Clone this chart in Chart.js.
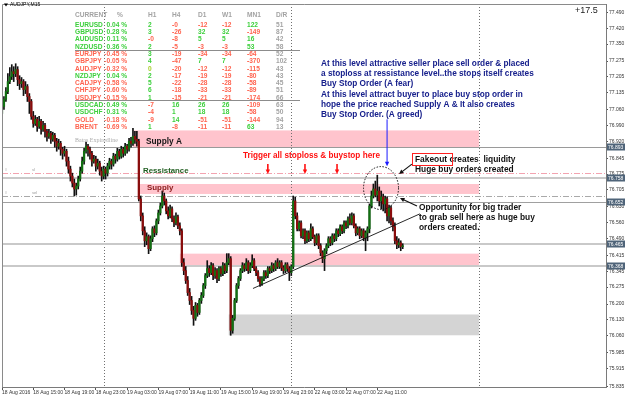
<!DOCTYPE html>
<html>
<head>
<meta charset="utf-8">
<title>AUDJPY,M15</title>
<script src="https://cdn.jsdelivr.net/npm/chart.js@4.4.1/dist/chart.umd.min.js"></script>
<style>
html,body{margin:0;padding:0;background:#fff;overflow:hidden;}
#wrap{position:relative;width:625px;height:397px;}
canvas{display:block;}
</style>
</head>
<body>
<div id="wrap"><canvas id="chart" width="625" height="397"></canvas></div>
<script>
// ---------------- data (AUDJPY M15, bar index 0 = 18 Aug 11:00) ----------------
const opens = [77.043,77.074,77.105,77.140,77.184,77.206,77.228,77.219,77.237,77.193,
77.175,77.184,77.149,77.162,77.118,77.096,77.030,76.999,77.017,76.986,
77.008,76.973,76.990,76.964,76.942,76.955,76.929,76.946,76.920,76.898,
76.911,76.885,76.867,76.876,76.832,76.797,76.766,76.735,76.709,76.722,
76.753,76.788,76.832,76.876,76.898,76.885,76.867,76.832,76.841,76.810,
76.823,76.788,76.766,76.797,76.779,76.810,76.832,76.819,76.854,76.841,
76.876,76.854,76.885,76.867,76.898,76.885,76.920,76.911,76.942,76.929,
76.920,76.665,76.590,76.524,76.480,76.498,76.445,76.489,76.533,76.515,
76.568,76.603,76.634,76.678,76.656,76.612,76.590,76.621,76.577,76.559,
76.586,76.546,76.524,76.383,76.348,76.304,76.251,76.216,76.172,76.137,
76.194,76.163,76.216,76.238,76.282,76.326,76.357,76.339,76.370,76.326,
76.348,76.313,76.357,76.335,76.370,76.348,76.383,76.401,76.084,76.137,
76.216,76.282,76.313,76.348,76.370,76.357,76.383,76.348,76.370,76.392,
76.357,76.339,76.313,76.291,76.313,76.339,76.326,76.357,76.348,76.370,
76.357,76.383,76.366,76.383,76.361,76.348,76.374,76.357,76.339,76.366,
76.656,76.590,76.533,76.559,76.502,76.524,76.480,76.515,76.489,76.533,
76.498,76.471,76.502,76.458,76.427,76.401,76.436,76.458,76.489,76.471,
76.502,76.489,76.524,76.511,76.542,76.524,76.559,76.546,76.577,76.559,
76.590,76.546,76.515,76.533,76.502,76.524,76.493,76.515,76.533,76.634,
76.678,76.709,76.682,76.700,76.656,76.674,76.643,76.665,76.590,76.625,
76.568,76.542,76.480,76.462,76.471,76.454];

const highs = [77.131,77.118,77.158,77.219,77.246,77.259,77.250,77.263,77.250,77.210,
77.202,77.193,77.184,77.171,77.131,77.105,77.052,77.034,77.026,77.030,
77.017,77.008,76.999,76.973,76.973,76.964,76.960,76.955,76.933,76.929,
76.920,76.894,76.898,76.885,76.850,76.810,76.779,76.753,76.735,76.766,
76.806,76.850,76.889,76.916,76.907,76.894,76.876,76.858,76.854,76.841,
76.832,76.806,76.810,76.806,76.823,76.845,76.841,76.867,76.863,76.889,
76.885,76.898,76.894,76.911,76.907,76.933,76.938,76.977,76.964,76.964,
76.929,76.678,76.603,76.542,76.515,76.506,76.502,76.542,76.546,76.577,
76.616,76.647,76.700,76.691,76.665,76.630,76.638,76.630,76.590,76.603,
76.594,76.559,76.533,76.401,76.366,76.322,76.269,76.234,76.190,76.207,
76.203,76.225,76.251,76.291,76.335,76.392,76.370,76.383,76.379,76.361,
76.357,76.366,76.366,76.383,76.379,76.423,76.423,76.410,76.150,76.225,
76.291,76.322,76.357,76.383,76.379,76.401,76.392,76.383,76.418,76.401,
76.366,76.348,76.322,76.322,76.348,76.348,76.366,76.366,76.383,76.379,
76.392,76.401,76.392,76.392,76.370,76.383,76.383,76.366,76.374,76.678,
76.674,76.603,76.568,76.568,76.533,76.533,76.524,76.524,76.555,76.542,
76.506,76.511,76.511,76.467,76.436,76.445,76.467,76.498,76.498,76.511,
76.511,76.533,76.533,76.550,76.550,76.568,76.568,76.586,76.599,76.603,
76.599,76.555,76.542,76.542,76.533,76.533,76.524,76.542,76.643,76.700,
76.731,76.744,76.770,76.718,76.700,76.687,76.678,76.674,76.638,76.634,
76.581,76.559,76.498,76.489,76.480,76.467];

const lows = [77.008,77.061,77.096,77.131,77.175,77.193,77.184,77.206,77.166,77.149,
77.158,77.122,77.131,77.096,77.043,77.017,76.982,76.990,76.964,76.977,
76.951,76.964,76.938,76.920,76.933,76.911,76.920,76.894,76.876,76.885,
76.858,76.841,76.854,76.810,76.779,76.744,76.718,76.678,76.682,76.709,
76.744,76.779,76.819,76.867,76.854,76.841,76.810,76.823,76.788,76.797,
76.770,76.744,76.753,76.753,76.766,76.797,76.797,76.810,76.823,76.832,
76.841,76.845,76.850,76.858,76.867,76.876,76.894,76.902,76.911,76.898,
76.656,76.568,76.506,76.454,76.462,76.423,76.436,76.476,76.498,76.506,
76.555,76.594,76.625,76.638,76.599,76.577,76.581,76.564,76.542,76.550,
76.533,76.506,76.366,76.330,76.291,76.238,76.198,76.154,76.106,76.128,
76.146,76.154,76.203,76.229,76.269,76.317,76.322,76.330,76.308,76.313,
76.295,76.304,76.322,76.326,76.335,76.339,76.374,76.062,76.071,76.128,
76.207,76.269,76.304,76.339,76.344,76.348,76.335,76.339,76.361,76.348,
76.326,76.300,76.278,76.282,76.304,76.313,76.317,76.335,76.339,76.344,
76.348,76.357,76.357,76.348,76.335,76.339,76.344,76.304,76.326,76.357,
76.577,76.524,76.524,76.493,76.489,76.467,76.471,76.476,76.480,76.489,
76.458,76.462,76.445,76.414,76.383,76.348,76.423,76.449,76.458,76.462,
76.476,76.480,76.498,76.502,76.511,76.515,76.533,76.537,76.550,76.550,
76.537,76.502,76.506,76.489,76.493,76.480,76.436,76.480,76.515,76.625,
76.669,76.674,76.656,76.634,76.621,76.612,76.603,76.568,76.559,76.550,
76.524,76.467,76.445,76.449,76.436,76.445];

const closes = [77.074,77.105,77.140,77.184,77.206,77.228,77.219,77.237,77.193,77.175,
77.184,77.149,77.162,77.118,77.096,77.030,76.999,77.017,76.986,77.008,
76.973,76.990,76.964,76.942,76.955,76.929,76.946,76.920,76.898,76.911,
76.885,76.867,76.876,76.832,76.797,76.766,76.735,76.709,76.722,76.753,
76.788,76.832,76.876,76.898,76.885,76.867,76.832,76.841,76.810,76.823,
76.788,76.766,76.797,76.779,76.810,76.832,76.819,76.854,76.841,76.876,
76.854,76.885,76.867,76.898,76.885,76.920,76.911,76.942,76.929,76.920,
76.665,76.590,76.524,76.480,76.498,76.445,76.489,76.533,76.515,76.568,
76.603,76.634,76.678,76.656,76.612,76.590,76.621,76.577,76.559,76.586,
76.546,76.524,76.383,76.348,76.304,76.251,76.216,76.172,76.137,76.194,
76.163,76.216,76.238,76.282,76.326,76.357,76.339,76.370,76.326,76.348,
76.313,76.357,76.335,76.370,76.348,76.383,76.401,76.084,76.137,76.216,
76.282,76.313,76.348,76.370,76.357,76.383,76.348,76.370,76.392,76.357,
76.339,76.313,76.291,76.313,76.339,76.326,76.357,76.348,76.370,76.357,
76.383,76.366,76.383,76.361,76.348,76.374,76.357,76.339,76.366,76.656,
76.590,76.533,76.559,76.502,76.524,76.480,76.515,76.489,76.533,76.498,
76.471,76.502,76.458,76.427,76.401,76.436,76.458,76.489,76.471,76.502,
76.489,76.524,76.511,76.542,76.524,76.559,76.546,76.577,76.559,76.590,
76.546,76.515,76.533,76.502,76.524,76.493,76.515,76.533,76.634,76.678,
76.709,76.682,76.700,76.656,76.674,76.643,76.665,76.590,76.625,76.568,
76.542,76.480,76.462,76.471,76.454,76.458];

// time axis: bar index of each label, and the label text
const xTickBars   = [0,16,32,48,64,80,96,112,128,144,160,176,192];
const xTickLabels = ['18 Aug 2016','18 Aug 15:00','18 Aug 19:00','18 Aug 23:00','19 Aug 03:00','19 Aug 07:00',
                     '19 Aug 11:00','19 Aug 15:00','19 Aug 19:00','19 Aug 23:00','22 Aug 03:00','22 Aug 07:00','22 Aug 11:00'];
const daySeparatorBars = [52,148,244];

// price axis tick labels
const yTickValues = [77.490,77.420,77.350,77.275,77.205,77.135,77.060,76.990,76.920,76.845,76.775,76.705,
                     76.630,76.560,76.490,76.415,76.345,76.275,76.200,76.130,76.060,75.985,75.915,75.835];

// horizontal price levels (with price labels on the axis)
const levelPrices = [76.893,76.758,76.652,76.465,76.368];
// stop-loss / sell dash-dot lines
const stopLevels = [76.779,76.678];

// zones: start bar, end bar, top price, bottom price
const zoneNames     = ['Supply A','Supply','Demand','Base'];
const zoneStartBar  = [67,70,91,116];
const zoneEndBar    = [244,244,244,244];
const zoneTop       = [76.968,76.731,76.423,76.154];
const zoneBottom    = [76.893,76.687,76.370,76.062];

// trendline (bar, price)
const trendBars   = [128.4,213.8];
const trendPrices = [76.269,76.599];

// currency-strength table
const tableHeaders = ['CURRENT','%','H1','H4','D1','W1','MN1','D/R'];
const tableSymbols = ['EURUSD','GBPUSD','AUDUSD','NZDUSD','EURJPY','GBPJPY','AUDJPY','NZDJPY','CADJPY','CHFJPY','USDJPY','USDCAD','USDCHF','GOLD','BRENT'];
const tablePct     = ['0.04 %','0.28 %','0.11 %','0.36 %','-0.45 %','-0.05 %','-0.32 %','0.04 %','-0.58 %','-0.60 %','-0.15 %','0.49 %','0.31 %','-0.18 %','-0.69 %'];
const tableH1      = ['2','3','-0','2','3','4','0','2','5','6','1','-7','-4','-9','1'];
const tableH4      = ['-0','-26','-8','-5','-19','-47','-20','-17','-22','-18','-15','16','1','14','-8'];
const tableD1      = ['-12','32','5','-3','-34','7','-12','-19','-28','-33','-21','26','18','-51','-11'];
const tableW1      = ['-12','32','5','-3','-34','7','-12','-19','-28','-33','-21','26','18','-51','-11'];
const tableMN1     = ['122','-149','16','53','-64','-370','-115','-80','-58','-89','-174','-109','-58','-144','63'];
const tableDR      = ['51','87','42','58','52','102','43','43','45','51','66','63','50','94','13'];

// annotation texts
const noteSeller = ['At this level attractive seller place sell order & placed',
                    'a stoploss at ressistance level..the stops itself creates',
                    'Buy Stop Order (A fear)'];
const noteBuyer  = ['At this level attract buyer to place buy stop order in',
                    'hope the price reached Supply A & It also creates',
                    'Buy Stop Order. (A greed)'];
const noteTrigger = 'Trigger all stoploss & buystop here';
const noteFake = ['Fakeout creates  liquidity','Huge buy orders created'];
const noteOpp  = ['Opportunity for big trader','to grab sell here as huge buy','orders created.'];
const redArrowBars = [136,155,171.4];

// ---------------- drawing ----------------
const FONT = '"Liberation Sans", Arial, sans-serif';
Chart.defaults.font.family = FONT;
const BULL = '#127012', BEAR = '#8a0c0c';
const GREEN_TXT = '#3ccf3c', RED_TXT = '#ff6450', GRAY_TXT = '#a3a3a3';

function arrow(ctx, x0, y0, x1, y1, color, lw, head) {
  const ang = Math.atan2(y1 - y0, x1 - x0);
  ctx.strokeStyle = color; ctx.fillStyle = color; ctx.lineWidth = lw;
  ctx.beginPath(); ctx.moveTo(x0, y0);
  ctx.lineTo(x1 - Math.cos(ang) * head * 0.8, y1 - Math.sin(ang) * head * 0.8); ctx.stroke();
  ctx.beginPath(); ctx.moveTo(x1, y1);
  ctx.lineTo(x1 - head * Math.cos(ang - 0.45), y1 - head * Math.sin(ang - 0.45));
  ctx.lineTo(x1 - head * Math.cos(ang + 0.45), y1 - head * Math.sin(ang + 0.45));
  ctx.closePath(); ctx.fill();
}

const backPlugin = {
  id: 'back',
  beforeDatasetsDraw(c) {
    const {ctx, chartArea: a, scales: {x, y}} = c;
    ctx.save();
    ctx.beginPath(); ctx.rect(a.left, a.top, a.right - a.left, a.bottom - a.top); ctx.clip();
    // zones
    for (let i = 0; i < zoneTop.length; i++) {
      const x0 = x.getPixelForValue(zoneStartBar[i]), x1 = x.getPixelForValue(zoneEndBar[i]);
      const y0 = y.getPixelForValue(zoneTop[i]), y1 = y.getPixelForValue(zoneBottom[i]);
      ctx.fillStyle = i === 3 ? '#d4d4d4' : '#ffc4cd';
      ctx.fillRect(x0, y0, x1 - x0, y1 - y0);
    }
    // day separators
    ctx.strokeStyle = '#707070'; ctx.lineWidth = 1; ctx.setLineDash([1, 2]);
    daySeparatorBars.forEach(b => {
      const px = Math.round(x.getPixelForValue(b)) + 0.5;
      ctx.beginPath(); ctx.moveTo(px, a.top); ctx.lineTo(px, a.bottom); ctx.stroke();
    });
    // dash-dot stop lines
    ctx.setLineDash([6, 2, 1, 2]);
    stopLevels.forEach((v, i) => {
      ctx.strokeStyle = i === 0 ? '#f3a3b0' : '#a9a9a9';
      const py = Math.round(y.getPixelForValue(v)) + 0.5;
      ctx.beginPath(); ctx.moveTo(a.left, py); ctx.lineTo(a.right, py); ctx.stroke();
    });
    ctx.setLineDash([]);
    // level lines
    const widths = [1, 2, 1, 2, 2];
    const cols = ['#9a9a9a', '#c9c9c9', '#a0a0a0', '#c9c9c9', '#c9c9c9'];
    levelPrices.forEach((v, i) => {
      ctx.strokeStyle = cols[i]; ctx.lineWidth = widths[i];
      let py = y.getPixelForValue(v);
      py = widths[i] === 1 ? Math.round(py) + 0.5 : Math.round(py);
      ctx.beginPath(); ctx.moveTo(a.left, py); ctx.lineTo(a.right, py); ctx.stroke();
    });
    // tiny object captions at the left of stop lines
    ctx.fillStyle = '#9a9a9a'; ctx.font = '4px ' + FONT; ctx.textBaseline = 'bottom';
    ctx.fillText('#', 5, y.getPixelForValue(stopLevels[0]) - 1);
    ctx.fillText('sl', 32, y.getPixelForValue(stopLevels[0]) - 1);
    ctx.fillText('#', 5, y.getPixelForValue(stopLevels[1]) - 1);
    ctx.fillText('sel', 32, y.getPixelForValue(stopLevels[1]) - 1);
    ctx.restore();
  }
};

const overPlugin = {
  id: 'over',
  afterDraw(c) {
    const {ctx, chartArea: a, scales: {x, y}} = c;
    ctx.save();
    // frame
    ctx.strokeStyle = '#8a8a8a'; ctx.lineWidth = 1;
    ctx.beginPath(); ctx.moveTo(a.left + 0.5, a.bottom); ctx.lineTo(a.left + 0.5, a.top + 0.5); ctx.lineTo(a.right, a.top + 0.5); ctx.stroke();

    // title
    ctx.fillStyle = '#000';
    ctx.beginPath(); ctx.moveTo(4, 3.5); ctx.lineTo(8, 3.5); ctx.lineTo(6, 6.5); ctx.closePath(); ctx.fill();
    ctx.font = '5px ' + FONT; ctx.textBaseline = 'middle'; ctx.textAlign = 'left';
    ctx.fillText('AUDJPY,M15', 10, 5);
    ctx.font = '9px ' + FONT; ctx.fillStyle = '#222';
    ctx.fillText('+17.5', 575, 11);

    // table
    const colX = [75, 127, 148, 172, 198, 222, 247, 276];
    ctx.textBaseline = 'middle';
    ctx.font = 'bold 6.6px ' + FONT;
    tableHeaders.forEach((h, j) => {
      ctx.fillStyle = GRAY_TXT;
      ctx.textAlign = 'left';
      ctx.fillText(h, j === 1 ? 117 : colX[j], 15);
    });
    const valColor = s => s.startsWith('-') ? RED_TXT : (s === '0' ? '#a6cf2a' : GREEN_TXT);
    tableSymbols.forEach((s, i) => {
      const ty = 24.7 + i * 7.33;
      const sc = tablePct[i].startsWith('-') ? RED_TXT : GREEN_TXT;
      ctx.fillStyle = sc; ctx.textAlign = 'left'; ctx.fillText(s, colX[0], ty);
      ctx.textAlign = 'right'; ctx.fillText(tablePct[i], colX[1], ty);
      ctx.textAlign = 'left';
      [tableH1, tableH4, tableD1, tableW1, tableMN1].forEach((arr, k) => {
        ctx.fillStyle = valColor(arr[i]); ctx.fillText(arr[i], colX[k + 2], ty);
      });
      ctx.fillStyle = GRAY_TXT; ctx.fillText(tableDR[i], colX[7], ty);
    });
    ctx.strokeStyle = '#8c8c8c'; ctx.lineWidth = 1;
    [50.5, 100.5].forEach(ly => { ctx.beginPath(); ctx.moveTo(75, ly); ctx.lineTo(300, ly); ctx.stroke(); });

    // gray caption
    ctx.fillStyle = '#adadad'; ctx.font = '6px "Liberation Serif", serif'; ctx.textAlign = 'left';
    ctx.fillText('Batas Expiredline', 75, 140);

    // zone captions
    ctx.font = 'bold 8.3px ' + FONT;
    ctx.fillStyle = '#151515'; ctx.fillText('Supply A', 146, 141.5);
    ctx.fillStyle = '#1f5d1f'; ctx.font = 'bold 7.8px ' + FONT; ctx.fillText('Ressistance', 143, 171);
    ctx.fillStyle = '#8a1a1a'; ctx.font = 'bold 7.9px ' + FONT; ctx.fillText('Supply', 147, 188);

    // red trigger note + arrows
    ctx.fillStyle = '#ff1010'; ctx.font = 'bold 8.2px ' + FONT;
    ctx.fillText(noteTrigger, 243, 156);
    redArrowBars.forEach(b => {
      const px = x.getPixelForValue(b);
      arrow(ctx, px, y.getPixelForValue(76.819), px, y.getPixelForValue(76.775), '#ff1010', 1.6, 5);
    });

    // blue notes
    ctx.fillStyle = '#17208c'; ctx.font = 'bold 8.25px ' + FONT;
    noteSeller.forEach((t, i) => ctx.fillText(t, 321, 64 + i * 10));
    noteBuyer.forEach((t, i) => ctx.fillText(t, 321, 95 + i * 10));
    {
      const px = x.getPixelForValue(197);
      arrow(ctx, px, y.getPixelForValue(77.017), px, y.getPixelForValue(76.810), '#1a1aff', 1, 5);
    }

    // dotted ellipse round the fakeout spike
    ctx.strokeStyle = '#111'; ctx.lineWidth = 1; ctx.setLineDash([1.5, 1.5]);
    ctx.beginPath(); ctx.ellipse(x.getPixelForValue(193.9), y.getPixelForValue(76.713), 17.5, 21.5, 0, 0, Math.PI * 2); ctx.stroke();
    ctx.setLineDash([]);

    // black notes
    ctx.fillStyle = '#111'; ctx.font = 'bold 8.4px ' + FONT;
    noteFake.forEach((t, i) => ctx.fillText(t, 415, 160 + i * 9.5));
    ctx.strokeStyle = '#ff2020'; ctx.lineWidth = 1;
    ctx.strokeRect(412.5, 153.5, 40, 12);
    noteOpp.forEach((t, i) => ctx.fillText(t, 419, 208 + i * 10));
    arrow(ctx, x.getPixelForValue(209.7), y.getPixelForValue(76.819), x.getPixelForValue(203.1), y.getPixelForValue(76.775), '#111', 1.2, 5);
    arrow(ctx, x.getPixelForValue(212.3), y.getPixelForValue(76.634), x.getPixelForValue(203.6), y.getPixelForValue(76.669), '#111', 1.2, 5);

    // price labels on the axis
    ctx.font = '5px ' + FONT; ctx.textAlign = 'left';
    levelPrices.forEach(v => {
      const py = Math.round(y.getPixelForValue(v));
      ctx.fillStyle = '#4f6479'; ctx.fillRect(a.right + 1, py - 3.5, 19, 7);
      ctx.fillStyle = '#fff'; ctx.fillText(v.toFixed(3), a.right + 2, py + 0.5);
    });
    ctx.restore();
  }
};

new Chart(document.getElementById('chart'), {
  type: 'bar',
  data: {
    datasets: [
      {
        type: 'line', label: 'trend',
        data: trendBars.map((b, i) => ({x: b, y: trendPrices[i]})),
        borderColor: '#111', borderWidth: 0.9, pointRadius: 0, order: 0
      },
      {
        type: 'bar', label: 'body',
        data: opens.map((o, i) => ({x: i, y: [o, closes[i]]})),
        backgroundColor: opens.map((o, i) => closes[i] >= o ? BULL : BEAR),
        barThickness: 1.6, grouped: false, borderWidth: 0, order: 1
      },
      {
        type: 'bar', label: 'wick',
        data: opens.map((o, i) => ({x: i, y: [lows[i], highs[i]]})),
        backgroundColor: '#111', barThickness: 1, grouped: false, borderWidth: 0, order: 2
      }
    ]
  },
  options: {
    responsive: false, animation: false, devicePixelRatio: 1,
    layout: {padding: {left: 2, top: 2, right: 0, bottom: 0}},
    plugins: {legend: {display: false}, tooltip: {enabled: false}},
    scales: {
      x: {
        type: 'linear', min: 0, max: 309, offset: false,
        grid: {display: true, drawOnChartArea: false, drawTicks: true, tickLength: 3, color: '#555', offset: false},
        border: {display: true, color: '#7a7a7a'},
        ticks: {
          autoSkip: false, maxRotation: 0, minRotation: 0, align: 'start', padding: 0,
          font: {size: 5}, color: '#333',
          callback: v => { const k = xTickBars.indexOf(v); return k >= 0 ? xTickLabels[k] : ''; }
        },
        afterBuildTicks: s => { s.ticks = xTickBars.map(v => ({value: v})); },
        afterFit: s => { s.height = 10; }
      },
      y: {
        type: 'linear', position: 'right', min: 75.8332, max: 77.5272,
        grid: {display: true, drawOnChartArea: false, drawTicks: true, tickLength: 2, color: '#555'},
        border: {display: true, color: '#7a7a7a'},
        ticks: {font: {size: 5}, color: '#333', padding: 1, callback: v => v.toFixed(3)},
        afterBuildTicks: s => { s.ticks = yTickValues.map(v => ({value: v})); },
        afterFit: s => { s.width = 19; }
      }
    }
  },
  plugins: [backPlugin, overPlugin]
});
</script>
</body>
</html>
